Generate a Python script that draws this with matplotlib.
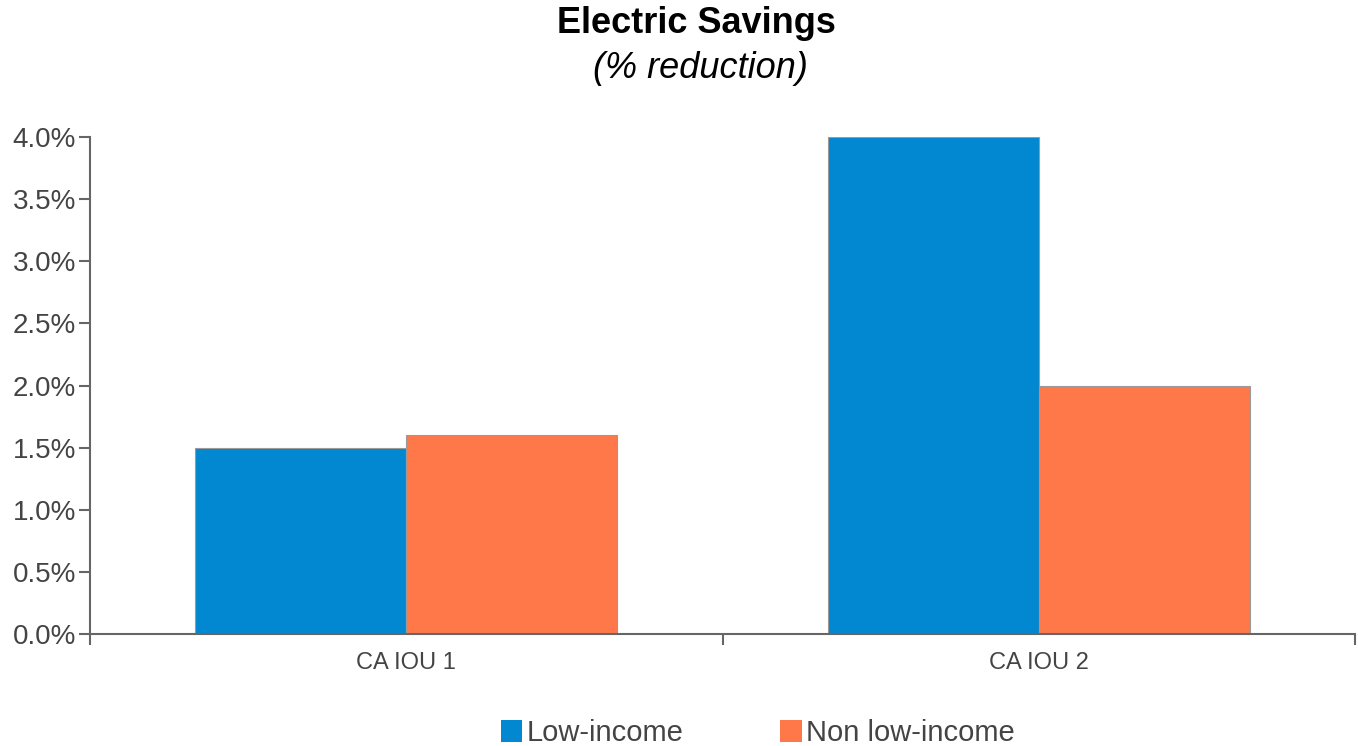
import matplotlib
matplotlib.use("Agg")
import matplotlib.pyplot as plt
import numpy as np
from matplotlib.ticker import FuncFormatter, FixedLocator
from matplotlib.patches import Patch

plt.rcParams['font.family'] = ['Liberation Sans', 'DejaVu Sans']

categories = ["CA IOU 1", "CA IOU 2"]
series_names = ["Low-income", "Non low-income"]
low_income = [0.015, 0.040]
non_low_income = [0.016, 0.020]
colors = ["#0288D1", "#FF784A"]

fig = plt.figure(figsize=(13.58, 7.46), dpi=100)
ax = fig.add_axes([0.0663, 0.150, 0.9315, 0.6664])

x = np.arange(len(categories))
w = 1/3
ax.bar(x - w/2, low_income, width=w, color=colors[0], edgecolor="#9a9a9a", linewidth=0.8)
ax.bar(x + w/2, non_low_income, width=w, color=colors[1], edgecolor="#9a9a9a", linewidth=0.8)

ax.set_xlim(-0.5, len(categories) - 0.5)
ax.set_ylim(0, 0.04)
ax.set_yticks(np.arange(0, 0.0401, 0.005))
ax.yaxis.set_major_formatter(FuncFormatter(lambda v, p: f"{v*100:.1f}%"))

ax.set_xticks(x)
ax.set_xticklabels(categories)
ax.xaxis.set_minor_locator(FixedLocator(np.arange(-0.5, len(categories), 1.0)))
ax.tick_params(axis='x', which='major', length=0, labelsize=17, colors="#444444", pad=13)
ax.tick_params(axis='x', which='minor', length=8, width=1.5, color="#666666", direction='out')
ax.tick_params(axis='y', which='major', length=8, width=1.5, color="#666666", labelsize=20, labelcolor="#444444", pad=2)

for s in ['top', 'right']:
    ax.spines[s].set_visible(False)
for s in ['left', 'bottom']:
    ax.spines[s].set_color("#666666")
    ax.spines[s].set_linewidth(1.5)

fig.text(0.513, 0.969, "Electric Savings", ha='center', va='center', fontsize=26, fontweight='bold', color='black')
fig.text(0.516, 0.908, "(% reduction)", ha='center', va='center', fontsize=26, fontstyle='italic', color='black')

handles = [Patch(facecolor=c, edgecolor='none') for c in colors]
fig.legend(handles, series_names, loc='center', bbox_to_anchor=(0.558, 0.017), ncol=2, frameon=False,
           fontsize=21, handlelength=0.75, handleheight=0.75, handletextpad=0.15, columnspacing=3.3,
           labelcolor="#444444")

fig.savefig("out.png", dpi=100)
